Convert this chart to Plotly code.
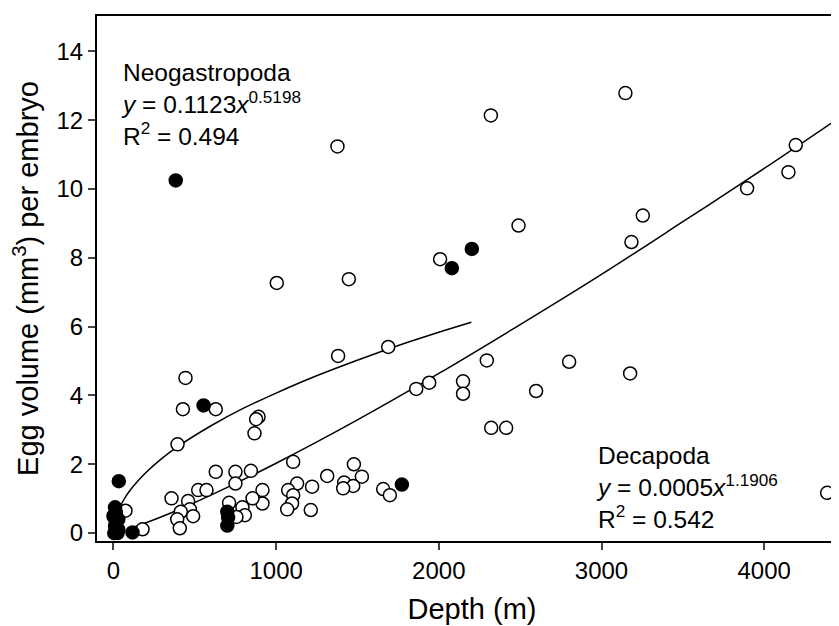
"""Egg volume per embryo versus depth, Neogastropoda and Decapoda power fits."""

import plotly.graph_objects as go

# open circles
open_depth = [1377, 1004, 1447, 2320, 2490, 2008, 3147, 4194, 4149, 3895, 3254, 3184,
              443, 427, 629, 1381, 892, 877, 867, 394, 1689, 2295, 2801, 1941, 1861,
              2149, 2149, 2598, 2322, 2414, 3176, 4387, 1105, 1478, 1527, 1314, 1418,
              1474, 1412, 1221, 1129, 1074, 1105, 1098, 1068, 1213, 1658, 1699, 629,
              750, 845, 750, 357, 521, 572, 459, 470, 414, 392, 408, 490, 916, 916,
              855, 793, 808, 756, 711, 74, 179]
open_volume = [11.24, 7.27, 7.38, 12.14, 8.94, 7.96, 12.79, 11.28, 10.49, 10.02, 9.23, 8.46,
               4.51, 3.60, 3.60, 5.15, 3.38, 3.31, 2.90, 2.58, 5.41, 5.02, 4.98, 4.37, 4.19,
               4.41, 4.05, 4.13, 3.06, 3.06, 4.64, 1.17, 2.07, 2.00, 1.64, 1.66, 1.47,
               1.37, 1.30, 1.35, 1.44, 1.25, 1.10, 0.86, 0.69, 0.67, 1.28, 1.10, 1.78,
               1.78, 1.81, 1.44, 1.01, 1.25, 1.25, 0.93, 0.69, 0.62, 0.40, 0.14, 0.49, 1.25, 0.86,
               1.01, 0.75, 0.52, 0.47, 0.88, 0.65, 0.11]

# filled circles
filled_depth = [383, 2203, 2080, 554, 33, 1773, 117, 700, 705, 700,
                10, 15, 5, 20, 10, 30, 5, 25, 15, 0, 30]
filled_volume = [10.25, 8.26, 7.70, 3.71, 1.51, 1.41, 0.02, 0.62, 0.45, 0.22,
                 0.75, 0.60, 0.45, 0.35, 0.20, 0.10, 0.0, 0.0, 0.25, 0.50, 0.40]

# fitted curves
neo_fit_depth = [10, 30, 60, 100, 200, 300, 400, 600, 800, 1000, 1200, 1400, 1600, 1800, 2000, 2200]
neo_fit_volume = [0.37, 0.66, 0.94, 1.23, 1.76, 2.18, 2.53, 3.12, 3.63, 4.07, 4.48, 4.85,
                  5.20, 5.53, 5.84, 6.13]
deca_fit_depth = [100, 200, 400, 700, 1000, 1500, 2000, 2500, 3000, 3500, 4000, 4550]
deca_fit_volume = [0.13, 0.30, 0.68, 1.33, 2.03, 3.29, 4.64, 6.06, 7.52, 9.05, 10.60, 12.36]

x_ticks = [0, 1000, 2000, 3000, 4000]
y_ticks = [0, 2, 4, 6, 8, 10, 12, 14]

FONT = "Liberation Sans, Arial, sans-serif"

fig = go.Figure()
fig.add_trace(go.Scatter(x=neo_fit_depth, y=neo_fit_volume, mode="lines",
                         line=dict(color="black", width=1.5, shape="spline")))
fig.add_trace(go.Scatter(x=deca_fit_depth, y=deca_fit_volume, mode="lines",
                         line=dict(color="black", width=1.5, shape="spline")))
fig.add_trace(go.Scatter(x=open_depth, y=open_volume, mode="markers",
                         marker=dict(size=13, color="white", line=dict(color="black", width=1.5))))
fig.add_trace(go.Scatter(x=filled_depth, y=filled_volume, mode="markers",
                         marker=dict(size=13, color="black", line=dict(color="black", width=1.5))))

fig.add_annotation(xref="paper", yref="paper", x=0.029, y=0.922, xanchor="left", yanchor="top",
                   align="left", showarrow=False, font=dict(size=24.5, color="black", family=FONT),
                   text="Neogastropoda<br><i>y</i> = 0.1123<i>x</i><sup>0.5198</sup><br>R<sup>2</sup> = 0.494")
fig.add_annotation(xref="paper", yref="paper", x=0.662, y=0.192, xanchor="left", yanchor="top",
                   align="left", showarrow=False, font=dict(size=24.5, color="black", family=FONT),
                   text="Decapoda<br><i>y</i> = 0.0005<i>x</i><sup>1.1906</sup><br>R<sup>2</sup> = 0.542")

# the page body adds 8px around the plot, so margins are shifted to compensate
fig.update_layout(
    width=839, height=626,
    margin=dict(l=89, r=0, t=8, b=93),
    paper_bgcolor="white", plot_bgcolor="white",
    showlegend=False,
    font=dict(family=FONT, size=24, color="black"),
)
fig.update_xaxes(range=[-101, 4509], tickvals=x_ticks, ticks="outside", ticklen=7, tickwidth=2,
                 showline=True, linewidth=2, linecolor="black", mirror=True, showgrid=False,
                 zeroline=False, title=dict(text="Depth (m)", standoff=16))
fig.update_yaxes(range=[-0.23, 15.03], tickvals=y_ticks, ticks="outside", ticklen=7, tickwidth=2,
                 showline=True, linewidth=2, linecolor="black", mirror=False, showgrid=False,
                 zeroline=False, title=dict(text="Egg volume (mm<sup>3</sup>) per embryo", standoff=15))

fig.write_html("out.html")
